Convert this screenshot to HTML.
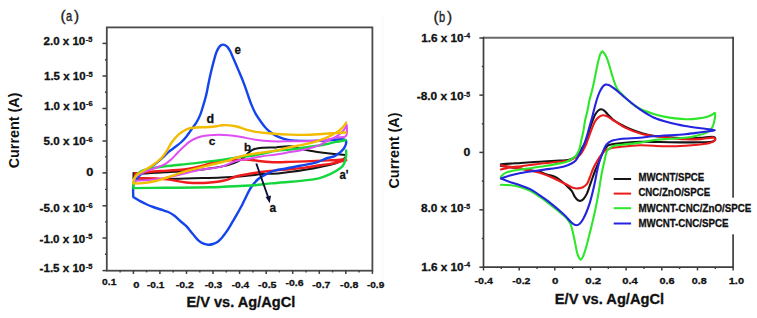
<!DOCTYPE html>
<html><head><meta charset="utf-8"><style>
html,body{margin:0;padding:0;background:#fff;width:757px;height:318px;overflow:hidden;font-family:"Liberation Sans",sans-serif;}
svg{display:block;}
</style></head><body>
<svg width="757" height="318" viewBox="0 0 757 318">
<line x1="382.7" y1="14" x2="382.7" y2="280" stroke="#f8f8f8" stroke-width="1"/>
<rect x="106.8" y="27.4" width="265.6" height="243.3" fill="none" stroke="#4a4a4a" stroke-width="1.8"/>
<line x1="102.5" y1="43.4" x2="106.8" y2="43.4" stroke="#3c3c3c" stroke-width="1.5"/>
<line x1="102.5" y1="76.0" x2="106.8" y2="76.0" stroke="#3c3c3c" stroke-width="1.5"/>
<line x1="102.5" y1="108.5" x2="106.8" y2="108.5" stroke="#3c3c3c" stroke-width="1.5"/>
<line x1="102.5" y1="141.0" x2="106.8" y2="141.0" stroke="#3c3c3c" stroke-width="1.5"/>
<line x1="102.5" y1="172.9" x2="106.8" y2="172.9" stroke="#3c3c3c" stroke-width="1.5"/>
<line x1="102.5" y1="205.8" x2="106.8" y2="205.8" stroke="#3c3c3c" stroke-width="1.5"/>
<line x1="102.5" y1="238.0" x2="106.8" y2="238.0" stroke="#3c3c3c" stroke-width="1.5"/>
<line x1="102.5" y1="270.6" x2="106.8" y2="270.6" stroke="#3c3c3c" stroke-width="1.5"/>
<line x1="105" y1="59.7" x2="106.8" y2="59.7" stroke="#3c3c3c" stroke-width="1.4"/>
<line x1="105" y1="92.2" x2="106.8" y2="92.2" stroke="#3c3c3c" stroke-width="1.4"/>
<line x1="105" y1="124.8" x2="106.8" y2="124.8" stroke="#3c3c3c" stroke-width="1.4"/>
<line x1="105" y1="156.9" x2="106.8" y2="156.9" stroke="#3c3c3c" stroke-width="1.4"/>
<line x1="105" y1="189.4" x2="106.8" y2="189.4" stroke="#3c3c3c" stroke-width="1.4"/>
<line x1="105" y1="221.9" x2="106.8" y2="221.9" stroke="#3c3c3c" stroke-width="1.4"/>
<line x1="105" y1="254.3" x2="106.8" y2="254.3" stroke="#3c3c3c" stroke-width="1.4"/>
<line x1="120.1" y1="270.6" x2="120.1" y2="272.4" stroke="#3c3c3c" stroke-width="1.4"/>
<line x1="133.4" y1="270.6" x2="133.4" y2="273.9" stroke="#3c3c3c" stroke-width="1.5"/>
<line x1="146.6" y1="270.6" x2="146.6" y2="272.4" stroke="#3c3c3c" stroke-width="1.4"/>
<line x1="159.9" y1="270.6" x2="159.9" y2="273.9" stroke="#3c3c3c" stroke-width="1.5"/>
<line x1="173.2" y1="270.6" x2="173.2" y2="272.4" stroke="#3c3c3c" stroke-width="1.4"/>
<line x1="186.5" y1="270.6" x2="186.5" y2="273.9" stroke="#3c3c3c" stroke-width="1.5"/>
<line x1="199.8" y1="270.6" x2="199.8" y2="272.4" stroke="#3c3c3c" stroke-width="1.4"/>
<line x1="213.0" y1="270.6" x2="213.0" y2="273.9" stroke="#3c3c3c" stroke-width="1.5"/>
<line x1="226.3" y1="270.6" x2="226.3" y2="272.4" stroke="#3c3c3c" stroke-width="1.4"/>
<line x1="239.6" y1="270.6" x2="239.6" y2="273.9" stroke="#3c3c3c" stroke-width="1.5"/>
<line x1="252.9" y1="270.6" x2="252.9" y2="272.4" stroke="#3c3c3c" stroke-width="1.4"/>
<line x1="266.2" y1="270.6" x2="266.2" y2="273.9" stroke="#3c3c3c" stroke-width="1.5"/>
<line x1="279.4" y1="270.6" x2="279.4" y2="272.4" stroke="#3c3c3c" stroke-width="1.4"/>
<line x1="292.7" y1="270.6" x2="292.7" y2="273.9" stroke="#3c3c3c" stroke-width="1.5"/>
<line x1="306.0" y1="270.6" x2="306.0" y2="272.4" stroke="#3c3c3c" stroke-width="1.4"/>
<line x1="319.3" y1="270.6" x2="319.3" y2="273.9" stroke="#3c3c3c" stroke-width="1.5"/>
<line x1="332.6" y1="270.6" x2="332.6" y2="272.4" stroke="#3c3c3c" stroke-width="1.4"/>
<line x1="345.8" y1="270.6" x2="345.8" y2="273.9" stroke="#3c3c3c" stroke-width="1.5"/>
<line x1="359.1" y1="270.6" x2="359.1" y2="272.4" stroke="#3c3c3c" stroke-width="1.4"/>
<line x1="372.4" y1="270.6" x2="372.4" y2="273.9" stroke="#3c3c3c" stroke-width="1.5"/>
<line x1="483.5" y1="37.7" x2="733.1" y2="37.7" stroke="#6a6a6a" stroke-width="2.0"/>
<path d="M733.1,36.8 V267.2 H483.5 V36.8" fill="none" stroke="#3e3e3e" stroke-width="1.7"/>
<line x1="479.4" y1="38.0" x2="483.5" y2="38.0" stroke="#3c3c3c" stroke-width="1.5"/>
<line x1="479.4" y1="95.1" x2="483.5" y2="95.1" stroke="#3c3c3c" stroke-width="1.5"/>
<line x1="479.4" y1="152.4" x2="483.5" y2="152.4" stroke="#3c3c3c" stroke-width="1.5"/>
<line x1="479.4" y1="209.8" x2="483.5" y2="209.8" stroke="#3c3c3c" stroke-width="1.5"/>
<line x1="479.4" y1="267.2" x2="483.5" y2="267.2" stroke="#3c3c3c" stroke-width="1.5"/>
<line x1="481.8" y1="66.5" x2="483.5" y2="66.5" stroke="#3c3c3c" stroke-width="1.4"/>
<line x1="481.8" y1="123.8" x2="483.5" y2="123.8" stroke="#3c3c3c" stroke-width="1.4"/>
<line x1="481.8" y1="181.1" x2="483.5" y2="181.1" stroke="#3c3c3c" stroke-width="1.4"/>
<line x1="481.8" y1="238.5" x2="483.5" y2="238.5" stroke="#3c3c3c" stroke-width="1.4"/>
<line x1="483.5" y1="267.2" x2="483.5" y2="270.4" stroke="#3c3c3c" stroke-width="1.5"/>
<line x1="501.3" y1="267.2" x2="501.3" y2="269.0" stroke="#3c3c3c" stroke-width="1.4"/>
<line x1="519.2" y1="267.2" x2="519.2" y2="270.4" stroke="#3c3c3c" stroke-width="1.5"/>
<line x1="537.0" y1="267.2" x2="537.0" y2="269.0" stroke="#3c3c3c" stroke-width="1.4"/>
<line x1="554.8" y1="267.2" x2="554.8" y2="270.4" stroke="#3c3c3c" stroke-width="1.5"/>
<line x1="572.6" y1="267.2" x2="572.6" y2="269.0" stroke="#3c3c3c" stroke-width="1.4"/>
<line x1="590.5" y1="267.2" x2="590.5" y2="270.4" stroke="#3c3c3c" stroke-width="1.5"/>
<line x1="608.3" y1="267.2" x2="608.3" y2="269.0" stroke="#3c3c3c" stroke-width="1.4"/>
<line x1="626.1" y1="267.2" x2="626.1" y2="270.4" stroke="#3c3c3c" stroke-width="1.5"/>
<line x1="644.0" y1="267.2" x2="644.0" y2="269.0" stroke="#3c3c3c" stroke-width="1.4"/>
<line x1="661.8" y1="267.2" x2="661.8" y2="270.4" stroke="#3c3c3c" stroke-width="1.5"/>
<line x1="679.6" y1="267.2" x2="679.6" y2="269.0" stroke="#3c3c3c" stroke-width="1.4"/>
<line x1="697.5" y1="267.2" x2="697.5" y2="270.4" stroke="#3c3c3c" stroke-width="1.5"/>
<line x1="715.3" y1="267.2" x2="715.3" y2="269.0" stroke="#3c3c3c" stroke-width="1.4"/>
<line x1="733.1" y1="267.2" x2="733.1" y2="270.4" stroke="#3c3c3c" stroke-width="1.5"/>
<path d="M133.50,173.10 C133.50,173.10 136.49,173.47 139.00,173.50 C144.46,173.56 156.80,172.64 165.00,172.20 C172.37,171.80 179.66,171.45 186.00,171.00 C191.25,170.63 196.45,170.24 200.40,169.80 C203.19,169.49 204.54,169.26 207.50,168.80 C212.45,168.03 221.77,166.90 227.30,165.40 C231.47,164.27 235.09,162.87 238.00,161.40 C240.21,160.28 241.81,159.19 243.50,157.80 C245.21,156.39 246.56,154.40 248.20,153.00 C249.74,151.69 251.31,150.41 253.00,149.60 C254.59,148.84 256.24,148.52 258.00,148.20 C259.89,147.86 261.65,147.83 264.00,147.70 C267.31,147.52 271.85,147.61 276.00,147.40 C280.49,147.17 285.19,145.94 290.00,146.30 C295.26,146.70 301.60,149.15 306.30,150.10 C309.85,150.82 312.38,151.19 315.70,151.70 C319.41,152.27 323.81,152.85 327.50,153.30 C330.75,153.70 333.67,154.01 336.70,154.30 C339.66,154.58 345.50,155.00 345.50,155.00 L346.00,157.00 C346.00,157.00 341.71,160.52 339.20,161.80 C336.54,163.16 334.13,163.80 330.40,164.80 C324.20,166.46 313.62,168.40 305.20,169.80 C296.82,171.20 287.80,172.49 280.00,173.20 C273.29,173.81 265.76,173.66 261.20,174.10 C258.57,174.35 257.42,174.71 255.00,175.00 C251.62,175.41 247.43,175.82 242.80,176.20 C236.71,176.70 229.18,177.26 221.60,177.60 C212.85,178.00 202.73,178.08 193.30,178.30 C183.87,178.52 174.23,178.82 165.00,178.90 C156.15,178.98 144.46,178.91 139.00,178.80 C136.49,178.75 133.50,178.60 133.50,178.60 Z" fill="none" stroke="#151515" stroke-width="2.00" stroke-linejoin="round" stroke-linecap="round" />
<path d="M134.80,173.40 C134.80,173.40 135.98,173.30 137.00,173.20 C139.33,172.97 144.21,172.39 148.50,172.00 C153.93,171.51 160.78,171.06 167.00,170.60 C173.34,170.13 180.35,170.02 186.20,169.20 C191.20,168.49 195.61,167.38 200.00,166.30 C204.08,165.30 207.95,163.94 211.70,163.00 C215.13,162.14 218.03,161.31 221.60,160.80 C225.71,160.21 230.51,160.08 235.00,159.90 C239.51,159.72 244.16,159.47 248.60,159.70 C252.89,159.92 256.83,160.79 261.20,161.20 C265.93,161.64 271.13,162.09 276.00,162.20 C280.73,162.31 285.24,162.03 290.00,161.90 C294.96,161.77 300.01,161.61 305.20,161.40 C310.66,161.18 316.30,160.88 322.00,160.60 C327.90,160.31 335.71,160.11 340.00,159.70 C342.40,159.47 345.60,158.90 345.60,158.90 L346.20,160.20 C346.20,160.20 344.41,160.49 343.00,160.80 C340.18,161.41 333.97,163.25 330.40,163.90 C327.80,164.37 326.41,164.31 323.60,164.70 C318.96,165.34 311.05,166.81 305.20,167.60 C299.90,168.31 294.97,168.83 290.00,169.30 C285.24,169.75 280.73,169.96 276.00,170.40 C271.13,170.85 265.93,171.37 261.20,172.00 C256.82,172.58 252.79,173.25 248.60,174.00 C244.39,174.75 239.93,175.40 236.00,176.50 C232.41,177.51 229.83,179.21 225.90,180.20 C220.74,181.50 213.87,182.40 207.50,182.80 C200.68,183.23 193.09,183.10 186.20,182.50 C179.61,181.92 173.78,180.11 167.00,179.40 C159.47,178.61 148.90,178.24 143.00,178.20 C139.55,178.18 134.80,178.50 134.80,178.50 Z" fill="none" stroke="#ee1c1c" stroke-width="2.40" stroke-linejoin="round" stroke-linecap="round" />
<path d="M133.30,197.00 C133.30,197.00 132.93,188.84 133.30,186.00 C133.54,184.15 133.87,182.66 134.50,181.50 C134.99,180.59 135.76,180.16 136.40,179.40 C137.12,178.55 137.69,177.58 138.60,176.60 C139.77,175.34 141.41,173.88 143.00,172.60 C144.69,171.24 146.58,170.05 148.50,168.70 C150.60,167.23 152.87,165.82 155.10,164.10 C157.57,162.20 160.24,159.85 162.60,157.70 C164.83,155.68 166.73,153.42 168.90,151.60 C170.94,149.88 173.13,148.59 175.20,147.00 C177.29,145.39 179.50,143.79 181.40,142.00 C183.26,140.25 185.00,138.23 186.50,136.40 C187.83,134.78 188.93,133.10 190.00,131.60 C190.94,130.29 191.65,129.25 192.60,127.90 C193.75,126.27 195.21,124.49 196.40,122.50 C197.73,120.27 199.00,117.78 200.10,115.10 C201.33,112.10 202.29,108.62 203.30,105.30 C204.33,101.92 205.36,98.51 206.20,95.00 C207.06,91.41 207.62,87.74 208.40,84.00 C209.22,80.08 210.07,75.94 211.00,72.00 C211.91,68.14 212.95,64.07 213.90,60.60 C214.71,57.66 215.38,54.80 216.30,52.50 C217.03,50.68 217.81,49.07 218.70,47.80 C219.41,46.78 220.20,45.83 221.00,45.30 C221.62,44.89 222.23,44.63 222.90,44.60 C223.62,44.56 224.44,44.80 225.20,45.20 C226.15,45.69 227.16,46.61 228.00,47.60 C228.96,48.74 229.74,50.31 230.50,51.80 C231.31,53.39 231.80,54.80 232.70,56.90 C234.16,60.27 236.61,65.87 238.40,70.10 C240.06,74.01 241.73,77.90 243.10,81.40 C244.27,84.39 245.23,87.05 246.20,89.80 C247.12,92.42 247.93,95.01 248.80,97.50 C249.63,99.87 250.29,101.94 251.30,104.40 C252.51,107.34 253.96,110.82 255.70,113.90 C257.50,117.09 260.09,120.61 262.00,123.20 C263.44,125.16 264.62,126.72 266.00,128.20 C267.26,129.55 268.39,130.62 269.90,131.80 C271.70,133.20 273.92,134.74 276.20,135.90 C278.60,137.13 281.54,138.17 284.00,138.90 C286.11,139.53 287.60,139.88 290.00,140.20 C293.49,140.67 298.47,140.79 303.00,140.90 C307.96,141.02 313.39,140.98 318.60,140.80 C323.85,140.62 330.09,140.11 334.40,139.80 C337.39,139.59 339.97,139.10 342.00,139.20 C343.36,139.27 345.40,139.80 345.40,139.80 L346.20,141.20 C346.20,141.20 346.23,142.85 346.00,143.80 C345.69,145.06 345.02,146.71 344.20,148.00 C343.36,149.32 342.19,150.51 341.00,151.60 C339.79,152.71 338.26,153.75 337.00,154.60 C335.95,155.31 335.24,155.89 334.00,156.40 C332.29,157.11 329.96,157.21 327.50,158.00 C324.12,159.08 319.98,161.44 315.70,162.70 C310.90,164.12 305.17,164.79 300.00,165.80 C294.94,166.79 289.37,167.91 285.00,168.70 C281.62,169.31 278.92,169.39 276.00,170.20 C273.06,171.02 270.21,172.24 267.40,173.60 C264.51,175.00 261.50,176.39 258.90,178.50 C256.10,180.78 253.58,183.70 251.30,187.00 C248.71,190.74 246.31,196.43 244.50,200.00 C243.25,202.47 242.58,204.05 241.40,206.30 C240.00,208.96 238.21,212.11 236.60,214.90 C235.04,217.60 233.47,220.17 231.90,222.80 C230.33,225.43 228.83,228.25 227.20,230.70 C225.69,232.96 224.14,235.11 222.50,237.00 C220.99,238.74 219.48,240.51 217.80,241.70 C216.29,242.77 214.63,243.48 213.00,244.00 C211.46,244.49 209.86,244.85 208.30,244.80 C206.73,244.75 205.12,244.31 203.60,243.70 C201.98,243.05 200.48,242.21 198.90,240.90 C196.82,239.18 194.68,236.22 192.60,233.80 C190.48,231.33 188.42,228.35 186.30,226.20 C184.48,224.36 182.68,223.16 180.80,221.50 C178.76,219.71 176.67,217.42 174.50,215.80 C172.49,214.30 170.54,213.04 168.30,212.00 C165.95,210.91 163.22,210.34 160.70,209.50 C158.19,208.67 155.58,207.87 153.20,207.00 C151.00,206.20 148.98,205.42 146.90,204.50 C144.78,203.56 142.75,202.58 140.60,201.40 C138.23,200.11 133.30,197.00 133.30,197.00 Z" fill="none" stroke="#1444ec" stroke-width="2.40" stroke-linejoin="round" stroke-linecap="round" />
<path d="M346.20,150.50 C346.20,150.50 346.22,151.74 346.20,152.60 C346.16,153.98 346.31,156.09 345.90,158.00 C345.40,160.33 344.47,163.47 343.00,165.50 C341.61,167.41 339.54,168.62 337.50,170.00 C335.28,171.51 332.94,172.81 330.10,174.10 C326.57,175.71 322.15,177.52 317.80,178.60 C313.15,179.75 308.86,179.94 303.00,180.60 C294.47,181.56 280.31,182.53 271.50,183.40 C265.11,184.03 260.37,184.76 255.00,185.20 C249.89,185.61 245.86,185.72 240.00,186.00 C231.72,186.40 221.01,187.00 210.00,187.30 C196.52,187.67 178.69,187.66 165.00,187.80 C153.51,187.92 133.30,188.10 133.30,188.10 L133.30,186.50 C133.30,186.50 133.52,181.20 134.30,179.00 C135.00,177.02 136.08,175.22 137.50,173.80 C138.96,172.34 140.86,171.28 143.00,170.40 C145.56,169.34 148.71,168.94 152.00,168.30 C155.92,167.54 159.82,166.96 165.00,166.30 C172.61,165.33 183.87,164.47 193.30,163.40 C202.74,162.33 213.75,161.01 221.60,159.90 C227.21,159.11 230.86,158.33 236.00,157.60 C241.89,156.76 248.53,156.28 255.00,155.20 C261.85,154.05 269.68,151.73 276.00,150.80 C281.11,150.05 284.92,150.20 290.00,149.60 C296.11,148.88 304.27,147.43 310.10,146.60 C314.58,145.96 318.44,145.62 322.00,145.00 C324.94,144.49 327.50,143.85 330.00,143.30 C332.20,142.82 333.93,142.37 336.20,141.90 C338.96,141.33 345.40,140.20 345.40,140.20 " fill="none" stroke="#14d63e" stroke-width="2.40" stroke-linejoin="round" stroke-linecap="round" />
<path d="M346.70,125.00 C346.70,125.00 344.94,128.53 343.70,130.10 C342.40,131.74 340.72,133.26 339.00,134.60 C337.25,135.96 335.36,137.08 333.30,138.20 C331.05,139.43 328.28,140.44 326.00,141.60 C323.94,142.65 322.45,143.82 320.20,144.80 C317.35,146.04 313.49,147.16 310.10,148.10 C306.75,149.03 303.37,149.73 300.00,150.40 C296.67,151.06 293.61,151.48 290.00,152.10 C285.72,152.83 280.74,153.79 276.00,154.50 C271.14,155.23 265.92,155.63 261.20,156.40 C256.82,157.12 252.81,158.13 248.60,158.90 C244.41,159.67 240.28,159.83 236.00,161.00 C231.29,162.29 226.95,165.17 221.60,166.60 C215.30,168.28 207.44,168.44 200.40,169.80 C193.31,171.17 185.57,173.35 179.20,174.80 C174.00,175.98 169.93,177.06 165.00,177.90 C159.73,178.79 153.25,179.44 148.50,179.90 C144.90,180.25 141.56,180.39 139.00,180.60 C137.25,180.74 134.60,181.00 134.60,181.00 L134.60,181.00 C134.60,181.00 134.60,178.56 135.30,177.50 C136.26,176.04 138.75,174.83 140.80,173.70 C143.09,172.43 145.69,171.50 148.50,170.40 C151.82,169.10 156.41,167.74 159.50,166.50 C161.82,165.57 163.62,164.91 165.50,163.80 C167.39,162.68 168.98,161.41 170.80,159.80 C173.02,157.84 175.44,154.99 177.70,152.70 C179.84,150.53 181.88,148.33 184.00,146.40 C185.98,144.59 187.77,142.85 190.00,141.40 C192.37,139.86 195.28,138.45 197.90,137.50 C200.28,136.64 202.46,136.23 205.00,135.80 C207.85,135.32 210.80,135.03 214.20,134.90 C218.40,134.74 223.83,134.87 228.30,135.20 C232.39,135.50 235.83,136.02 240.00,136.70 C244.86,137.49 250.45,139.03 255.70,139.80 C260.91,140.56 265.94,141.04 271.40,141.30 C277.33,141.58 283.68,141.35 290.00,141.30 C296.57,141.25 304.28,141.21 310.10,141.00 C314.59,140.83 318.43,140.67 322.00,140.30 C324.94,139.99 327.52,139.62 330.00,139.10 C332.21,138.63 333.89,137.88 336.20,137.40 C339.04,136.81 344.01,137.90 345.80,136.00 C347.71,133.97 346.70,125.00 346.70,125.00 " fill="none" stroke="#de4ef2" stroke-width="2.00" stroke-linejoin="round" stroke-linecap="round" />
<path d="M346.20,122.50 C346.20,122.50 344.61,125.16 343.70,126.30 C342.84,127.38 342.01,128.25 340.90,129.20 C339.58,130.33 337.90,131.42 336.20,132.50 C334.30,133.70 332.34,134.85 330.00,136.00 C327.14,137.40 323.52,138.91 320.20,140.10 C316.89,141.28 313.48,142.21 310.10,143.10 C306.75,143.98 303.37,144.71 300.00,145.40 C296.67,146.08 293.60,146.44 290.00,147.20 C285.71,148.11 280.76,149.70 276.00,150.60 C271.16,151.51 265.93,151.90 261.20,152.60 C256.83,153.24 252.78,153.77 248.60,154.60 C244.38,155.44 239.60,156.49 236.00,157.60 C233.20,158.46 231.81,159.43 228.70,160.40 C223.51,162.02 214.57,163.80 207.50,165.60 C200.40,167.40 193.09,169.17 186.20,171.20 C179.60,173.15 172.59,175.73 167.00,177.50 C162.69,178.86 159.44,180.07 155.50,181.00 C151.45,181.95 146.90,182.69 143.00,183.10 C139.60,183.45 133.40,183.50 133.40,183.50 L133.40,183.50 C133.40,183.50 133.54,181.84 133.70,181.00 C133.87,180.11 133.94,179.23 134.40,178.30 C135.02,177.06 136.09,175.63 137.50,174.40 C139.39,172.75 142.56,171.42 145.20,169.80 C148.04,168.06 151.24,166.33 154.00,164.30 C156.73,162.29 159.49,160.08 161.70,157.70 C163.78,155.46 165.38,152.99 167.00,150.50 C168.61,148.02 169.67,145.28 171.40,142.80 C173.21,140.20 175.47,137.39 177.70,135.30 C179.69,133.44 181.85,131.91 184.00,130.70 C185.96,129.60 187.70,128.78 190.00,128.20 C192.86,127.48 197.20,127.31 200.00,127.20 C202.01,127.12 203.20,127.36 205.20,127.30 C207.96,127.21 211.95,126.88 215.00,126.50 C217.70,126.16 219.73,125.32 222.60,125.20 C226.31,125.04 231.18,125.48 235.40,126.30 C239.69,127.13 244.39,129.22 248.10,130.20 C250.94,130.95 252.70,131.41 255.70,131.90 C259.98,132.59 265.94,133.06 271.40,133.50 C277.33,133.98 283.68,134.38 290.00,134.60 C296.54,134.83 304.18,134.96 310.00,134.80 C314.51,134.67 317.83,134.29 322.00,134.00 C326.53,133.69 331.93,133.26 336.20,133.00 C339.71,132.78 345.80,132.50 345.80,132.50 " fill="none" stroke="#f2bc00" stroke-width="2.40" stroke-linejoin="round" stroke-linecap="round" />
<line x1="256.3" y1="163.5" x2="268.6" y2="198.5" stroke="#10103c" stroke-width="1.9"/>
<path d="M269.8,203.2 L265.6,196.9 L271.0,195.6 Z" fill="#10103c"/>
<path d="M500.90,164.30 C500.90,164.30 506.84,163.81 510.00,163.60 C513.42,163.37 516.63,163.25 520.70,163.00 C526.11,162.66 533.18,162.09 539.60,161.70 C546.27,161.29 554.76,160.90 560.00,160.60 C563.28,160.41 565.60,160.61 568.00,160.10 C570.07,159.66 571.83,158.97 573.60,158.00 C575.44,156.99 577.41,155.73 578.80,154.10 C580.23,152.42 580.91,149.94 582.00,148.00 C583.02,146.18 584.17,144.79 585.10,142.80 C586.22,140.40 587.13,137.14 588.00,134.50 C588.78,132.13 589.32,130.06 590.10,127.70 C590.97,125.09 592.02,121.94 593.00,119.50 C593.82,117.46 594.53,115.58 595.50,114.00 C596.33,112.64 597.23,111.29 598.30,110.50 C599.20,109.83 600.29,109.27 601.30,109.30 C602.36,109.33 603.49,110.04 604.50,110.80 C605.74,111.74 606.69,113.45 608.00,114.80 C609.49,116.34 611.17,118.06 613.00,119.50 C614.92,121.01 616.84,122.20 619.30,123.60 C622.50,125.42 626.86,127.58 630.70,129.20 C634.43,130.77 638.23,132.09 642.00,133.20 C645.66,134.28 648.91,135.14 653.00,135.80 C658.03,136.61 664.51,136.89 670.00,137.30 C675.15,137.68 680.00,138.10 685.00,138.20 C690.00,138.30 695.03,138.05 700.00,137.90 C704.90,137.75 712.91,135.99 714.60,137.30 C715.28,137.82 715.35,138.93 715.10,139.60 C714.81,140.40 713.80,141.12 712.50,141.60 C709.97,142.53 704.28,142.07 700.00,142.20 C695.49,142.34 691.46,142.40 686.10,142.40 C678.76,142.40 668.12,142.10 660.00,142.00 C652.89,141.91 646.66,141.60 640.00,141.80 C633.33,142.00 625.16,142.67 620.00,143.20 C616.73,143.54 614.23,143.83 612.00,144.30 C610.36,144.64 609.01,144.71 607.80,145.50 C606.48,146.37 605.50,147.98 604.50,149.50 C603.37,151.22 602.49,153.23 601.50,155.40 C600.32,157.98 599.11,161.34 598.00,164.00 C597.03,166.32 596.07,168.32 595.20,170.50 C594.34,172.66 593.65,174.62 592.80,177.00 C591.77,179.86 590.56,183.53 589.50,186.50 C588.57,189.12 587.89,191.72 586.80,193.90 C585.84,195.82 584.68,197.81 583.50,199.00 C582.64,199.87 581.78,200.65 580.80,200.80 C579.79,200.95 578.46,200.41 577.50,199.80 C576.48,199.15 575.74,198.10 574.90,196.90 C573.79,195.31 573.09,192.80 571.70,190.90 C570.16,188.81 567.88,186.84 565.90,185.00 C563.98,183.22 561.97,181.42 560.00,180.00 C558.24,178.73 556.69,177.68 554.70,176.80 C552.43,175.79 549.53,175.34 547.00,174.50 C544.50,173.67 542.26,172.50 539.60,171.80 C536.64,171.02 533.17,170.74 530.00,170.20 C526.87,169.67 523.91,169.09 520.70,168.60 C517.26,168.08 513.42,167.65 510.00,167.20 C506.84,166.79 500.90,166.00 500.90,166.00 " fill="none" stroke="#151515" stroke-width="2.10" stroke-linejoin="round" stroke-linecap="round" />
<path d="M500.90,169.50 C500.90,169.50 505.01,168.51 507.00,168.10 C508.90,167.71 510.56,167.40 512.60,167.10 C515.05,166.75 517.91,166.54 520.70,166.20 C523.69,165.84 526.87,165.40 530.00,165.00 C533.17,164.60 535.66,164.26 539.60,163.80 C545.89,163.07 558.73,161.85 564.10,161.20 C566.74,160.88 568.13,161.03 570.00,160.40 C571.93,159.75 573.74,158.27 575.50,157.30 C577.10,156.42 578.81,156.00 580.10,154.80 C581.52,153.48 582.46,151.35 583.50,149.50 C584.57,147.59 585.37,145.94 586.40,143.50 C587.93,139.89 589.81,133.78 591.40,129.80 C592.65,126.67 593.63,123.72 595.00,121.50 C596.06,119.77 597.15,118.35 598.50,117.30 C599.74,116.33 601.26,115.46 602.70,115.30 C604.10,115.15 605.47,115.66 607.00,116.30 C609.05,117.15 611.18,118.92 613.70,120.50 C616.98,122.56 620.73,125.48 625.00,127.60 C629.98,130.07 635.87,132.42 642.00,134.00 C648.80,135.75 656.83,136.31 664.10,137.20 C671.15,138.06 678.52,139.02 685.00,139.30 C690.60,139.54 695.68,139.38 700.70,139.10 C705.35,138.85 712.17,136.90 714.10,137.80 C714.83,138.14 715.23,138.83 715.20,139.40 C715.17,140.11 714.29,141.06 713.30,141.70 C711.67,142.75 708.75,143.22 705.50,143.80 C700.32,144.73 691.87,145.30 685.00,145.70 C678.07,146.10 671.31,146.25 664.10,146.20 C656.35,146.15 647.65,145.12 640.00,145.30 C633.02,145.47 625.52,146.38 620.00,147.00 C616.09,147.44 612.67,147.66 610.00,148.40 C608.10,148.93 606.76,149.33 605.30,150.40 C603.55,151.69 601.86,154.18 600.50,156.00 C599.32,157.57 598.56,158.81 597.50,160.60 C596.10,162.96 594.31,166.11 593.00,169.00 C591.68,171.91 590.72,175.29 589.60,178.00 C588.66,180.27 588.04,182.61 586.80,184.20 C585.75,185.54 584.45,186.50 583.00,187.20 C581.47,187.93 579.45,188.29 577.80,188.40 C576.33,188.50 575.16,188.44 573.60,188.00 C571.39,187.38 568.78,185.67 566.00,184.30 C562.60,182.63 558.78,180.50 554.70,178.70 C550.07,176.65 544.11,174.19 539.60,172.80 C536.08,171.72 532.68,171.23 530.00,170.60 C528.06,170.15 526.61,169.74 525.00,169.40 C523.52,169.08 522.36,168.90 520.70,168.60 C518.43,168.19 515.05,167.63 512.60,167.20 C510.56,166.84 508.91,166.50 507.00,166.20 C505.01,165.89 500.90,165.40 500.90,165.40 " fill="none" stroke="#ec1b1b" stroke-width="2.10" stroke-linejoin="round" stroke-linecap="round" />
<path d="M500.90,177.00 C500.90,177.00 502.17,175.22 503.00,174.50 C503.86,173.75 504.81,173.13 506.00,172.60 C507.48,171.94 509.30,171.55 511.30,171.10 C513.83,170.53 516.98,170.07 520.00,169.60 C523.26,169.10 526.49,168.73 530.20,168.20 C534.68,167.56 540.19,166.79 545.00,166.00 C549.61,165.25 554.66,164.35 558.50,163.60 C561.37,163.04 563.72,162.82 566.00,162.00 C568.09,161.24 570.03,160.05 571.70,159.00 C573.13,158.10 574.44,157.29 575.50,156.20 C576.52,155.15 577.29,153.99 578.00,152.60 C578.83,150.99 579.46,148.97 580.00,147.00 C580.58,144.89 580.80,142.65 581.30,140.30 C581.85,137.68 582.61,135.00 583.20,132.00 C583.89,128.49 584.35,124.19 585.10,120.50 C585.80,117.04 586.77,113.88 587.50,110.50 C588.24,107.05 588.71,103.44 589.50,100.00 C590.28,96.61 591.37,93.38 592.20,90.00 C593.04,86.55 593.76,83.04 594.50,79.50 C595.26,75.88 595.96,72.03 596.70,68.50 C597.39,65.21 598.05,61.71 598.80,59.00 C599.37,56.93 599.90,54.96 600.60,53.60 C601.08,52.66 601.58,51.46 602.20,51.40 C602.87,51.34 603.80,52.68 604.50,53.60 C605.36,54.72 606.07,56.09 606.80,57.80 C607.83,60.20 608.76,63.74 609.70,66.80 C610.67,69.97 611.53,73.42 612.50,76.50 C613.40,79.33 614.28,82.18 615.30,84.60 C616.17,86.67 616.91,88.53 618.10,90.20 C619.28,91.86 621.03,93.20 622.40,94.60 C623.65,95.89 624.70,97.04 626.00,98.30 C627.44,99.70 628.80,101.11 630.70,102.60 C633.22,104.57 636.53,107.00 640.00,108.80 C643.87,110.80 648.81,112.47 653.00,113.80 C656.78,115.00 660.31,115.83 664.00,116.60 C667.67,117.36 671.41,117.97 675.10,118.40 C678.74,118.83 682.35,119.16 686.00,119.20 C689.68,119.24 693.42,119.06 697.10,118.60 C700.79,118.13 705.39,117.22 708.10,116.40 C709.76,115.90 710.82,115.42 712.00,114.80 C713.07,114.24 714.38,112.66 714.90,112.90 C715.37,113.12 715.24,114.58 715.20,115.70 C715.14,117.38 714.57,120.06 714.10,122.00 C713.68,123.72 713.32,125.43 712.60,126.80 C711.97,128.01 711.23,128.93 710.20,129.90 C708.96,131.06 707.35,132.23 705.50,133.10 C703.28,134.15 700.56,134.69 697.60,135.40 C693.91,136.29 689.40,137.24 685.00,137.80 C680.24,138.41 675.15,138.42 670.00,138.80 C664.51,139.21 658.27,139.50 653.00,140.20 C648.36,140.82 644.50,141.92 640.00,142.60 C635.19,143.33 629.49,143.86 625.00,144.40 C621.33,144.84 617.66,144.84 615.00,145.60 C613.09,146.15 611.66,146.86 610.30,147.80 C609.02,148.68 607.78,149.74 607.00,151.00 C606.22,152.27 606.04,153.72 605.60,155.40 C605.03,157.58 604.55,160.48 604.00,163.00 C603.45,165.51 602.84,167.85 602.30,170.50 C601.70,173.47 601.20,176.47 600.60,180.00 C599.85,184.43 598.82,191.37 598.20,195.00 C597.84,197.08 597.68,197.94 597.30,199.90 C596.72,202.86 595.77,207.42 595.00,211.00 C594.27,214.37 593.61,217.36 592.80,220.80 C591.89,224.65 590.81,228.97 589.80,233.00 C588.81,236.97 587.85,241.07 586.80,244.80 C585.84,248.20 584.98,251.84 583.80,254.50 C582.90,256.53 581.81,259.57 580.80,259.60 C579.87,259.63 578.81,257.37 578.00,255.50 C576.63,252.36 575.88,246.20 574.90,241.80 C573.99,237.72 573.17,233.29 572.30,230.00 C571.67,227.59 571.39,225.79 570.40,223.80 C569.32,221.64 567.80,219.66 565.90,217.60 C563.55,215.06 560.00,212.46 557.00,210.00 C554.03,207.56 550.93,205.13 548.00,202.90 C545.27,200.82 542.84,198.93 540.00,197.00 C536.94,194.92 533.58,192.58 530.20,190.90 C526.91,189.27 523.30,187.95 520.00,187.00 C517.02,186.15 514.34,185.68 511.30,185.30 C508.00,184.88 500.90,184.70 500.90,184.70 " fill="none" stroke="#2ee62a" stroke-width="2.10" stroke-linejoin="round" stroke-linecap="round" />
<path d="M500.90,178.60 C500.90,178.60 506.82,176.41 510.00,175.50 C513.40,174.53 516.61,173.78 520.70,173.00 C526.09,171.97 532.89,171.22 539.60,170.20 C547.24,169.04 558.49,167.88 564.10,166.40 C567.16,165.60 569.00,164.83 571.00,163.80 C572.72,162.92 574.13,162.23 575.50,160.80 C577.25,158.97 578.79,155.61 580.10,153.20 C581.23,151.11 582.05,149.45 583.00,147.20 C584.16,144.44 585.39,140.94 586.40,137.80 C587.39,134.71 588.15,131.52 589.00,128.50 C589.81,125.63 590.53,123.31 591.40,120.10 C592.55,115.85 593.98,109.56 595.20,105.20 C596.16,101.75 596.96,98.76 598.00,96.00 C598.89,93.64 599.90,91.39 600.90,89.60 C601.68,88.19 602.39,86.86 603.30,86.00 C604.03,85.31 604.82,84.78 605.70,84.60 C606.62,84.42 607.62,84.60 608.70,85.00 C610.21,85.55 611.86,86.86 613.70,88.20 C616.21,90.03 619.37,92.85 622.20,95.20 C625.04,97.55 627.78,99.96 630.70,102.30 C633.70,104.70 636.57,107.07 640.00,109.40 C643.91,112.05 648.24,115.02 653.00,117.20 C658.17,119.57 664.47,121.30 670.00,122.80 C675.12,124.18 679.93,125.09 685.00,126.00 C690.16,126.93 695.60,127.58 700.70,128.30 C705.55,128.98 714.89,129.65 714.90,130.20 C714.90,130.57 711.12,130.83 708.60,131.20 C704.82,131.75 698.65,132.57 694.40,133.10 C690.95,133.53 689.07,133.83 685.00,134.20 C677.51,134.88 661.30,135.55 653.00,136.30 C647.70,136.78 644.78,137.38 640.00,137.80 C634.14,138.32 625.55,138.29 620.40,139.00 C616.99,139.47 614.37,139.83 612.00,140.80 C610.03,141.61 608.33,142.62 607.00,144.00 C605.67,145.38 604.93,147.17 604.00,149.10 C602.89,151.41 601.88,154.54 601.00,157.00 C600.24,159.13 599.60,160.91 599.00,163.00 C598.36,165.23 597.92,167.22 597.30,170.00 C596.40,174.05 595.47,179.79 594.30,185.00 C593.01,190.72 591.31,197.96 589.80,202.90 C588.71,206.47 587.60,209.33 586.50,212.00 C585.60,214.17 584.86,215.91 583.80,217.80 C582.70,219.75 581.45,222.23 580.00,223.50 C578.88,224.48 577.57,225.32 576.30,225.30 C574.91,225.27 573.46,224.13 572.00,223.00 C570.02,221.47 567.96,218.45 565.90,216.40 C563.96,214.47 562.00,212.75 560.00,211.00 C558.00,209.25 555.93,207.55 553.90,205.90 C551.93,204.29 549.99,202.71 548.00,201.20 C546.03,199.71 544.35,198.52 542.00,196.90 C538.74,194.66 534.10,191.10 530.20,189.10 C526.77,187.34 523.28,186.34 520.00,185.20 C517.00,184.16 514.31,183.53 511.30,182.50 C507.97,181.36 500.90,178.60 500.90,178.60 " fill="none" stroke="#2424e0" stroke-width="2.10" stroke-linejoin="round" stroke-linecap="round" />
<rect x="731" y="197.7" width="5" height="36.6" fill="#ffffff"/>
<line x1="613.7" y1="179.0" x2="631.1" y2="179.0" stroke="#151515" stroke-width="2"/>
<line x1="613.7" y1="193.6" x2="631.1" y2="193.6" stroke="#ec1b1b" stroke-width="2"/>
<line x1="613.7" y1="208.2" x2="631.1" y2="208.2" stroke="#2ee62a" stroke-width="2"/>
<line x1="613.7" y1="223.5" x2="631.1" y2="223.5" stroke="#2424e0" stroke-width="2"/>
<text x="43.60" y="45.10" font-size="10.50" font-weight="bold" text-anchor="start" fill="#111" textLength="41.70" lengthAdjust="spacingAndGlyphs" font-family="Liberation Sans, sans-serif"  stroke="#111" stroke-width="0.30">2.0 x 10</text>
<text x="85.80" y="41.50" font-size="7.20" font-weight="bold" text-anchor="start" fill="#111" textLength="6.60" lengthAdjust="spacingAndGlyphs" font-family="Liberation Sans, sans-serif"  stroke="#111" stroke-width="0.30">-5</text>
<text x="44.00" y="80.30" font-size="10.50" font-weight="bold" text-anchor="start" fill="#111" textLength="41.60" lengthAdjust="spacingAndGlyphs" font-family="Liberation Sans, sans-serif"  stroke="#111" stroke-width="0.30">1.5 x 10</text>
<text x="86.10" y="76.70" font-size="7.20" font-weight="bold" text-anchor="start" fill="#111" textLength="6.70" lengthAdjust="spacingAndGlyphs" font-family="Liberation Sans, sans-serif"  stroke="#111" stroke-width="0.30">-5</text>
<text x="44.00" y="110.00" font-size="10.50" font-weight="bold" text-anchor="start" fill="#111" textLength="41.60" lengthAdjust="spacingAndGlyphs" font-family="Liberation Sans, sans-serif"  stroke="#111" stroke-width="0.30">1.0 x 10</text>
<text x="86.10" y="106.40" font-size="7.20" font-weight="bold" text-anchor="start" fill="#111" textLength="6.70" lengthAdjust="spacingAndGlyphs" font-family="Liberation Sans, sans-serif"  stroke="#111" stroke-width="0.30">-6</text>
<text x="43.60" y="145.20" font-size="10.50" font-weight="bold" text-anchor="start" fill="#111" textLength="42.00" lengthAdjust="spacingAndGlyphs" font-family="Liberation Sans, sans-serif"  stroke="#111" stroke-width="0.30">5.0 x 10</text>
<text x="86.10" y="141.60" font-size="7.20" font-weight="bold" text-anchor="start" fill="#111" textLength="6.70" lengthAdjust="spacingAndGlyphs" font-family="Liberation Sans, sans-serif"  stroke="#111" stroke-width="0.30">-6</text>
<text x="86.20" y="176.20" font-size="10.50" font-weight="bold" text-anchor="start" fill="#111" textLength="7.10" lengthAdjust="spacingAndGlyphs" font-family="Liberation Sans, sans-serif"  stroke="#111" stroke-width="0.30">0</text>
<text x="39.60" y="211.50" font-size="10.50" font-weight="bold" text-anchor="start" fill="#111" textLength="46.00" lengthAdjust="spacingAndGlyphs" font-family="Liberation Sans, sans-serif"  stroke="#111" stroke-width="0.30">-5.0 x 10</text>
<text x="86.10" y="207.90" font-size="7.20" font-weight="bold" text-anchor="start" fill="#111" textLength="6.70" lengthAdjust="spacingAndGlyphs" font-family="Liberation Sans, sans-serif"  stroke="#111" stroke-width="0.30">-6</text>
<text x="39.60" y="242.70" font-size="10.50" font-weight="bold" text-anchor="start" fill="#111" textLength="45.70" lengthAdjust="spacingAndGlyphs" font-family="Liberation Sans, sans-serif"  stroke="#111" stroke-width="0.30">-1.0 x 10</text>
<text x="85.80" y="239.10" font-size="7.20" font-weight="bold" text-anchor="start" fill="#111" textLength="6.60" lengthAdjust="spacingAndGlyphs" font-family="Liberation Sans, sans-serif"  stroke="#111" stroke-width="0.30">-5</text>
<text x="39.60" y="272.40" font-size="10.50" font-weight="bold" text-anchor="start" fill="#111" textLength="45.70" lengthAdjust="spacingAndGlyphs" font-family="Liberation Sans, sans-serif"  stroke="#111" stroke-width="0.30">-1.5 x 10</text>
<text x="85.80" y="268.80" font-size="7.20" font-weight="bold" text-anchor="start" fill="#111" textLength="6.60" lengthAdjust="spacingAndGlyphs" font-family="Liberation Sans, sans-serif"  stroke="#111" stroke-width="0.30">-5</text>
<text x="421.20" y="41.80" font-size="10.50" font-weight="bold" text-anchor="start" fill="#111" textLength="42.40" lengthAdjust="spacingAndGlyphs" font-family="Liberation Sans, sans-serif"  stroke="#111" stroke-width="0.30">1.6 x 10</text>
<text x="464.10" y="38.20" font-size="7.20" font-weight="bold" text-anchor="start" fill="#111" textLength="6.10" lengthAdjust="spacingAndGlyphs" font-family="Liberation Sans, sans-serif"  stroke="#111" stroke-width="0.30">-4</text>
<text x="416.70" y="100.10" font-size="10.50" font-weight="bold" text-anchor="start" fill="#111" textLength="46.90" lengthAdjust="spacingAndGlyphs" font-family="Liberation Sans, sans-serif"  stroke="#111" stroke-width="0.30">-8.0 x 10</text>
<text x="464.10" y="96.50" font-size="7.20" font-weight="bold" text-anchor="start" fill="#111" textLength="6.10" lengthAdjust="spacingAndGlyphs" font-family="Liberation Sans, sans-serif"  stroke="#111" stroke-width="0.30">-5</text>
<text x="463.50" y="155.60" font-size="10.50" font-weight="bold" text-anchor="start" fill="#111" textLength="6.80" lengthAdjust="spacingAndGlyphs" font-family="Liberation Sans, sans-serif"  stroke="#111" stroke-width="0.30">0</text>
<text x="420.90" y="212.10" font-size="10.50" font-weight="bold" text-anchor="start" fill="#111" textLength="42.70" lengthAdjust="spacingAndGlyphs" font-family="Liberation Sans, sans-serif"  stroke="#111" stroke-width="0.30">8.0 x 10</text>
<text x="464.10" y="208.50" font-size="7.20" font-weight="bold" text-anchor="start" fill="#111" textLength="6.10" lengthAdjust="spacingAndGlyphs" font-family="Liberation Sans, sans-serif"  stroke="#111" stroke-width="0.30">-5</text>
<text x="421.20" y="270.50" font-size="10.50" font-weight="bold" text-anchor="start" fill="#111" textLength="42.40" lengthAdjust="spacingAndGlyphs" font-family="Liberation Sans, sans-serif"  stroke="#111" stroke-width="0.30">1.6 x 10</text>
<text x="464.10" y="266.90" font-size="7.20" font-weight="bold" text-anchor="start" fill="#111" textLength="6.10" lengthAdjust="spacingAndGlyphs" font-family="Liberation Sans, sans-serif"  stroke="#111" stroke-width="0.30">-4</text>
<text x="102.10" y="285.40" font-size="9.90" font-weight="bold" text-anchor="start" fill="#111" textLength="14.30" lengthAdjust="spacingAndGlyphs" font-family="Liberation Sans, sans-serif"  stroke="#111" stroke-width="0.30">0.1</text>
<text x="133.20" y="287.50" font-size="9.90" font-weight="bold" text-anchor="start" fill="#111" textLength="6.20" lengthAdjust="spacingAndGlyphs" font-family="Liberation Sans, sans-serif"  stroke="#111" stroke-width="0.30">0</text>
<text x="147.00" y="287.70" font-size="9.90" font-weight="bold" text-anchor="start" fill="#111" textLength="17.30" lengthAdjust="spacingAndGlyphs" font-family="Liberation Sans, sans-serif"  stroke="#111" stroke-width="0.30">-0.1</text>
<text x="175.80" y="287.60" font-size="9.90" font-weight="bold" text-anchor="start" fill="#111" textLength="18.00" lengthAdjust="spacingAndGlyphs" font-family="Liberation Sans, sans-serif"  stroke="#111" stroke-width="0.30">-0.2</text>
<text x="204.70" y="287.60" font-size="9.90" font-weight="bold" text-anchor="start" fill="#111" textLength="17.60" lengthAdjust="spacingAndGlyphs" font-family="Liberation Sans, sans-serif"  stroke="#111" stroke-width="0.30">-0.3</text>
<text x="231.70" y="287.60" font-size="9.90" font-weight="bold" text-anchor="start" fill="#111" textLength="17.60" lengthAdjust="spacingAndGlyphs" font-family="Liberation Sans, sans-serif"  stroke="#111" stroke-width="0.30">-0.4</text>
<text x="258.10" y="287.70" font-size="9.90" font-weight="bold" text-anchor="start" fill="#111" textLength="18.50" lengthAdjust="spacingAndGlyphs" font-family="Liberation Sans, sans-serif"  stroke="#111" stroke-width="0.30">-0.5</text>
<text x="285.40" y="286.20" font-size="9.90" font-weight="bold" text-anchor="start" fill="#111" textLength="18.10" lengthAdjust="spacingAndGlyphs" font-family="Liberation Sans, sans-serif"  stroke="#111" stroke-width="0.30">-0.6</text>
<text x="312.30" y="287.90" font-size="9.90" font-weight="bold" text-anchor="start" fill="#111" textLength="18.10" lengthAdjust="spacingAndGlyphs" font-family="Liberation Sans, sans-serif"  stroke="#111" stroke-width="0.30">-0.7</text>
<text x="340.10" y="287.90" font-size="9.90" font-weight="bold" text-anchor="start" fill="#111" textLength="18.30" lengthAdjust="spacingAndGlyphs" font-family="Liberation Sans, sans-serif"  stroke="#111" stroke-width="0.30">-0.8</text>
<text x="366.90" y="287.90" font-size="9.90" font-weight="bold" text-anchor="start" fill="#111" textLength="17.40" lengthAdjust="spacingAndGlyphs" font-family="Liberation Sans, sans-serif"  stroke="#111" stroke-width="0.30">-0.9</text>
<text x="474.50" y="283.90" font-size="9.90" font-weight="bold" text-anchor="start" fill="#111" textLength="18.40" lengthAdjust="spacingAndGlyphs" font-family="Liberation Sans, sans-serif"  stroke="#111" stroke-width="0.30">-0.4</text>
<text x="512.30" y="283.90" font-size="9.90" font-weight="bold" text-anchor="start" fill="#111" textLength="18.20" lengthAdjust="spacingAndGlyphs" font-family="Liberation Sans, sans-serif"  stroke="#111" stroke-width="0.30">-0.2</text>
<text x="552.10" y="283.90" font-size="9.90" font-weight="bold" text-anchor="start" fill="#111" textLength="6.40" lengthAdjust="spacingAndGlyphs" font-family="Liberation Sans, sans-serif"  stroke="#111" stroke-width="0.30">0</text>
<text x="585.30" y="283.90" font-size="9.90" font-weight="bold" text-anchor="start" fill="#111" textLength="15.90" lengthAdjust="spacingAndGlyphs" font-family="Liberation Sans, sans-serif"  stroke="#111" stroke-width="0.30">0.2</text>
<text x="622.20" y="283.90" font-size="9.90" font-weight="bold" text-anchor="start" fill="#111" textLength="15.60" lengthAdjust="spacingAndGlyphs" font-family="Liberation Sans, sans-serif"  stroke="#111" stroke-width="0.30">0.4</text>
<text x="659.50" y="283.90" font-size="9.90" font-weight="bold" text-anchor="start" fill="#111" textLength="15.20" lengthAdjust="spacingAndGlyphs" font-family="Liberation Sans, sans-serif"  stroke="#111" stroke-width="0.30">0.6</text>
<text x="691.80" y="283.90" font-size="9.90" font-weight="bold" text-anchor="start" fill="#111" textLength="14.90" lengthAdjust="spacingAndGlyphs" font-family="Liberation Sans, sans-serif"  stroke="#111" stroke-width="0.30">0.8</text>
<text x="728.80" y="283.90" font-size="9.90" font-weight="bold" text-anchor="start" fill="#111" textLength="15.20" lengthAdjust="spacingAndGlyphs" font-family="Liberation Sans, sans-serif"  stroke="#111" stroke-width="0.30">1.0</text>
<text x="186.40" y="307.10" font-size="14.30" font-weight="bold" text-anchor="start" fill="#111" textLength="108.90" lengthAdjust="spacingAndGlyphs" font-family="Liberation Sans, sans-serif"  stroke="#111" stroke-width="0.30">E/V vs. Ag/AgCl</text>
<text x="554.80" y="304.40" font-size="14.30" font-weight="bold" text-anchor="start" fill="#111" textLength="109.30" lengthAdjust="spacingAndGlyphs" font-family="Liberation Sans, sans-serif"  stroke="#111" stroke-width="0.30">E/V vs. Ag/AgCl</text>
<text transform="translate(19.3,168.3) rotate(-90)" x="0" y="0" font-size="14.30" font-weight="bold" fill="#111" textLength="75.8" lengthAdjust="spacingAndGlyphs" font-family="Liberation Sans, sans-serif">Current (A)</text>
<text transform="translate(399.4,188.6) rotate(-90)" x="0" y="0" font-size="14.30" font-weight="bold" fill="#111" textLength="76.2" lengthAdjust="spacingAndGlyphs" font-family="Liberation Sans, sans-serif">Current (A)</text>
<text x="60.60" y="21.10" font-size="15.40" fill="#222" font-family="Liberation Sans, sans-serif" stroke="#222" stroke-width="0.35">(</text>
<text x="66.00" y="20.90" font-size="14.6" fill="#222" textLength="6.2" lengthAdjust="spacingAndGlyphs" font-family="Liberation Sans, sans-serif" stroke="#222" stroke-width="0.35">a</text>
<text x="74.10" y="21.10" font-size="15.40" fill="#222" font-family="Liberation Sans, sans-serif" stroke="#222" stroke-width="0.35">)</text>
<text x="433.50" y="22.00" font-size="15.40" fill="#222" font-family="Liberation Sans, sans-serif" stroke="#222" stroke-width="0.35">(</text>
<text x="438.90" y="21.80" font-size="14.6" fill="#222" textLength="6.2" lengthAdjust="spacingAndGlyphs" font-family="Liberation Sans, sans-serif" stroke="#222" stroke-width="0.35">b</text>
<text x="447.00" y="22.00" font-size="15.40" fill="#222" font-family="Liberation Sans, sans-serif" stroke="#222" stroke-width="0.35">)</text>
<text x="234.60" y="53.60" font-size="12.80" font-weight="bold" text-anchor="start" fill="#111" textLength="6.40" lengthAdjust="spacingAndGlyphs" font-family="Liberation Sans, sans-serif"  stroke="#111" stroke-width="0.30">e</text>
<text x="206.60" y="123.40" font-size="12.80" font-weight="bold" text-anchor="start" fill="#111" textLength="7.60" lengthAdjust="spacingAndGlyphs" font-family="Liberation Sans, sans-serif"  stroke="#111" stroke-width="0.30">d</text>
<text x="208.70" y="145.10" font-size="11.60" font-weight="bold" text-anchor="start" fill="#111" textLength="6.60" lengthAdjust="spacingAndGlyphs" font-family="Liberation Sans, sans-serif"  stroke="#111" stroke-width="0.30">c</text>
<text x="244.10" y="151.00" font-size="11.60" font-weight="bold" text-anchor="start" fill="#111" textLength="7.10" lengthAdjust="spacingAndGlyphs" font-family="Liberation Sans, sans-serif"  stroke="#111" stroke-width="0.30">b</text>
<text x="269.40" y="212.00" font-size="12.80" font-weight="bold" text-anchor="start" fill="#111" textLength="6.60" lengthAdjust="spacingAndGlyphs" font-family="Liberation Sans, sans-serif"  stroke="#111" stroke-width="0.30">a</text>
<text x="339.50" y="178.90" font-size="12.80" font-weight="bold" text-anchor="start" fill="#111" textLength="9.00" lengthAdjust="spacingAndGlyphs" font-family="Liberation Sans, sans-serif"  stroke="#111" stroke-width="0.30">a'</text>
<text x="638.40" y="181.10" font-size="10.60" font-weight="bold" text-anchor="start" fill="#111" textLength="65.80" lengthAdjust="spacingAndGlyphs" font-family="Liberation Sans, sans-serif"  stroke="#111" stroke-width="0.30">MWCNT/SPCE</text>
<text x="638.40" y="196.40" font-size="10.60" font-weight="bold" text-anchor="start" fill="#111" textLength="71.70" lengthAdjust="spacingAndGlyphs" font-family="Liberation Sans, sans-serif"  stroke="#111" stroke-width="0.30">CNC/ZnO/SPCE</text>
<text x="638.40" y="212.00" font-size="10.60" font-weight="bold" text-anchor="start" fill="#111" textLength="113.00" lengthAdjust="spacingAndGlyphs" font-family="Liberation Sans, sans-serif"  stroke="#111" stroke-width="0.30">MWCNT-CNC/ZnO/SPCE</text>
<text x="638.40" y="227.30" font-size="10.60" font-weight="bold" text-anchor="start" fill="#111" textLength="90.10" lengthAdjust="spacingAndGlyphs" font-family="Liberation Sans, sans-serif"  stroke="#111" stroke-width="0.30">MWCNT-CNC/SPCE</text>
</svg>
</body></html>
